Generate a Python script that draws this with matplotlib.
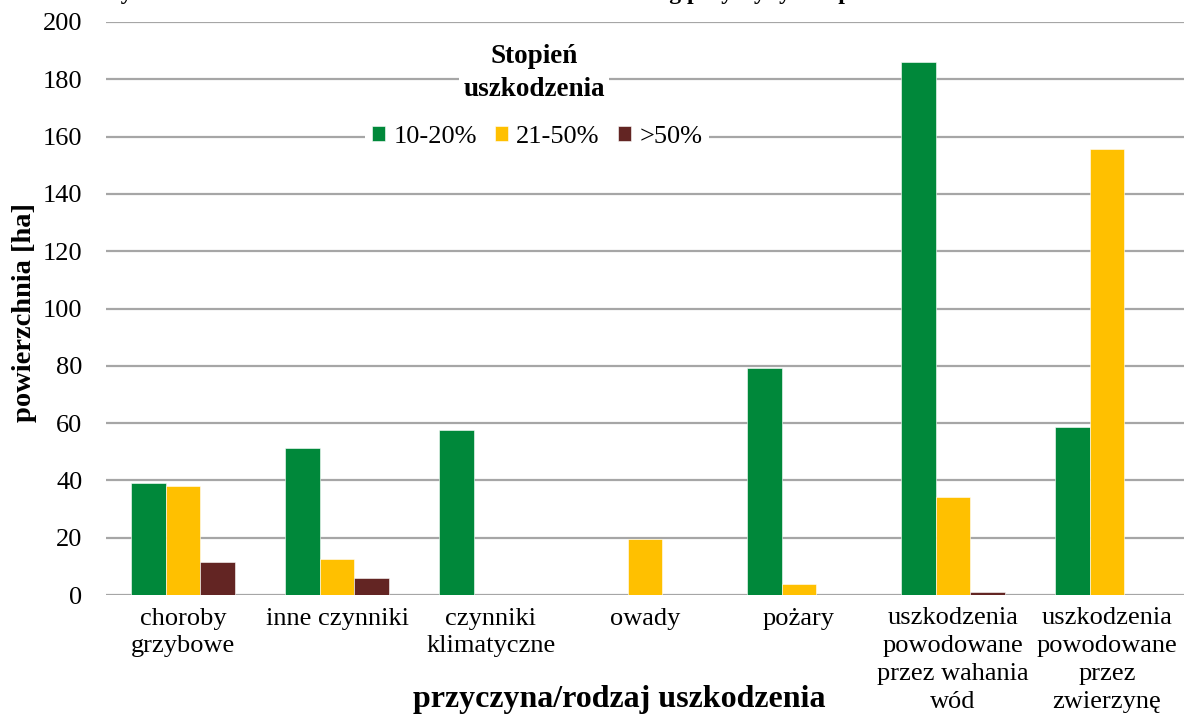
import matplotlib.pyplot as plt
import numpy as np

plt.rcParams['font.family'] = ['Liberation Serif', 'DejaVu Serif']

# Dane
kategorie = ["choroby\ngrzybowe", "inne czynniki", "czynniki\nklimatyczne", "owady",
             "pożary", "uszkodzenia\npowodowane\nprzez wahania\nwód",
             "uszkodzenia\npowodowane\nprzez\nzwierzynę"]
st_10_20 = [39.1, 51.2, 57.6, 0, 79.2, 186.0, 58.6]
st_21_50 = [38.2, 12.6, 0, 19.7, 3.8, 34.1, 155.7]
st_50 = [11.4, 5.8, 0, 0, 0, 1.2, 0]
serie = ["10-20%", "21-50%", ">50%"]
kolory = ["#00883A", "#FFC000", "#632523"]
yticks = np.arange(0, 201, 20)

fig = plt.figure(figsize=(11.84, 7.22), dpi=100)
ax = fig.add_axes([106/1184, 127/722, 1078/1184, 573/722])

x = np.arange(len(kategorie))
w = 0.224
for i, (vals, nazwa, kol) in enumerate(zip([st_10_20, st_21_50, st_50], serie, kolory)):
    ax.bar(x + (i - 1) * w, vals, width=w, color=kol, label=nazwa, zorder=2,
           edgecolor="white", linewidth=0.4)

ax.set_xlim(-0.5, len(kategorie) - 0.5)
ax.set_ylim(0, 200)
ax.set_yticks(yticks)
ax.yaxis.grid(True, color="#A6A6A6", linewidth=1.6)
ax.set_axisbelow(True)
for s in ax.spines.values():
    s.set_visible(False)
ax.tick_params(axis="y", length=0, pad=17, labelsize=19)
ax.tick_params(axis="x", length=0, pad=9, labelsize=19)
ax.set_xticks(x)
ax.set_xticklabels(kategorie, linespacing=1.35)

# legenda
leg = ax.legend(loc="center", bbox_to_anchor=(0.40, 0.80), ncol=3, fontsize=19,
                frameon=True, facecolor="white", edgecolor="white", framealpha=1,
                handlelength=0.5, handleheight=0.5, handletextpad=0.3,
                columnspacing=0.7, borderpad=0.25)
leg.get_frame().set_linewidth(0)
ax.text(0.397, 0.911, "Stopień\nuszkodzenia", transform=ax.transAxes, ha="center",
        va="center", fontsize=19.5, fontweight="bold", linespacing=1.45,
        bbox=dict(facecolor="white", edgecolor="none", pad=3), zorder=5)

fig.text(25/1184, 1 - 313/722, "powierzchnia [ha]", rotation=90, ha="center",
         va="center", fontsize=20.5, fontweight="bold")
fig.text(619/1184, 1 - 700/722, "przyczyna/rodzaj uszkodzenia", ha="center",
         va="center", fontsize=23, fontweight="bold")
fig.text(555/1184, 1 + 1/722,
         "Wykres 3. Powierzchnia uszkodzeń drzewostanów według przyczyny i stopnia uszkodzenia",
         ha="center", va="baseline", fontsize=17, fontweight="bold")

fig.savefig("out.png", dpi=100)
